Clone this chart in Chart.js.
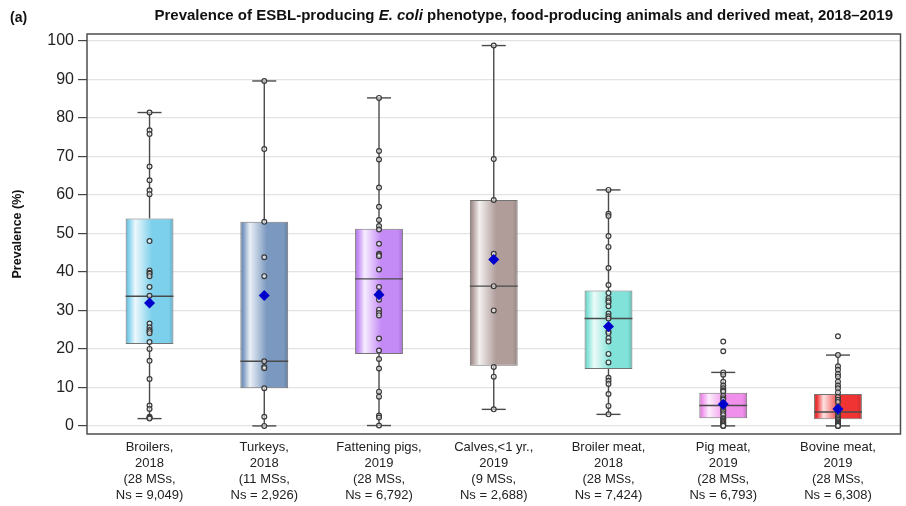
<!DOCTYPE html>
<html>
<head>
<meta charset="utf-8">
<script src="https://cdn.jsdelivr.net/npm/chart.js@4.4.1/dist/chart.umd.min.js"></script>
<style>
    body { margin: 0; background: #fff; }
    #wrap { position: relative; width: 906px; height: 506px; font-family: "Liberation Sans", Arial, sans-serif; }
    #panel { position: absolute; left: 10px; top: 8px; font-weight: bold; font-size: 14px; line-height: 18px; color: #111; }
    #title { position: absolute; right: 13px; top: 6px; font-weight: bold; font-size: 15px; line-height: 18px; color: #111; white-space: nowrap; }
</style>
</head>
<body>
<div id="wrap">
    <div id="panel">(a)</div>
    <div id="title">Prevalence of ESBL-producing <i>E. coli</i> phenotype, food-producing animals and derived meat, 2018–2019</div>
    <canvas id="myChart"></canvas>
</div>
<script>
const categories = [
    ["Broilers,", "2018", "(28 MSs,", "Ns = 9,049)"],
    ["Turkeys,", "2018", "(11 MSs,", "Ns = 2,926)"],
    ["Fattening pigs,", "2019", "(28 MSs,", "Ns = 6,792)"],
    ["Calves,<1 yr.,", "2019", "(9 MSs,", "Ns = 2,688)"],
    ["Broiler meat,", "2018", "(28 MSs,", "Ns = 7,424)"],
    ["Pig meat,", "2019", "(28 MSs,", "Ns = 6,793)"],
    ["Bovine meat,", "2019", "(28 MSs,", "Ns = 6,308)"],
];

const yTicks = [0, 10, 20, 30, 40, 50, 60, 70, 80, 90, 100];

const whiskerLow = [1.9, 0.0, 0.1, 4.3, 3.0, 0.0, 0.0];
const q1 = [21.3, 9.8, 18.7, 15.6, 14.8, 2.0, 1.7];
const median = [33.7, 16.8, 38.2, 36.3, 27.9, 5.3, 3.6];
const q3 = [53.9, 53.0, 51.2, 58.7, 35.2, 8.6, 8.3];
const whiskerHigh = [81.4, 89.6, 85.2, 98.8, 61.3, 13.9, 18.4];
const means = [31.9, 33.9, 34.1, 43.2, 25.8, 5.6, 4.4];

const countryValues = [
    [81.4, 76.8, 75.8, 67.4, 63.8, 61.2, 60.2, 48.0, 40.4, 39.8, 39.5, 38.9, 36.1, 33.8,
     26.6, 25.6, 24.9, 24.6, 24.1, 21.8, 20.0, 16.9, 12.2, 5.3, 4.4, 2.4, 2.1, 1.9],
    [89.6, 71.9, 53.0, 43.8, 38.9, 16.8, 15.3, 15.0, 9.8, 2.4, 0.0],
    [85.2, 71.4, 69.2, 61.9, 56.9, 53.5, 51.9, 51.0, 47.3, 44.7, 44.4, 44.1, 40.6, 36.1,
     34.5, 32.8, 30.2, 29.3, 28.7, 22.7, 19.6, 17.4, 14.9, 8.9, 7.6, 2.7, 2.2, 0.1],
    [98.8, 69.3, 58.7, 44.7, 36.3, 30.0, 15.3, 12.8, 4.3],
    [61.3, 55.1, 54.5, 49.3, 46.5, 41.0, 36.6, 34.5, 33.2, 32.6, 32.1, 31.1, 29.2, 28.5,
     27.9, 25.9, 24.5, 24.1, 22.8, 21.9, 18.7, 16.5, 12.5, 11.7, 10.9, 8.3, 5.2, 3.0],
    [21.9, 19.4, 13.9, 13.3, 11.5, 10.5, 9.8, 9.2, 8.9, 7.8, 7.2, 6.8, 6.0, 5.3,
     4.8, 4.2, 3.8, 3.3, 2.8, 2.0, 1.8, 1.4, 1.0, 0.7, 0.4, 0.2, 0.0, 0.0],
    [23.3, 18.4, 15.5, 14.6, 13.5, 12.8, 11.5, 10.5, 9.8, 8.7, 7.5, 6.8, 6.2, 5.0,
     4.4, 3.6, 3.3, 2.9, 2.4, 2.0, 1.6, 1.2, 0.9, 0.6, 0.3, 0.1, 0.0, 0.0],
];

const boxColors = ["#7dd0ec", "#7b99c0", "#c48af6", "#b09d9a", "#80e2d8", "#f090ec", "#f03434"];

const BOX_FRACTION = 0.417;
const FONT = '"Liberation Sans", Arial, sans-serif';

// blend a hex colour towards another one
const mix = (hex, target, t) => {
    const a = parseInt(hex.slice(1), 16);
    const b = parseInt(target.slice(1), 16);
    const ch = (v, s) => (v >> s) & 255;
    const c = [16, 8, 0].map((s) => Math.round(ch(a, s) + (ch(b, s) - ch(a, s)) * t));
    return `rgb(${c[0]},${c[1]},${c[2]})`;
};

const boxGradient = (context) => {
    const base = boxColors[context.dataIndex] || "#cccccc";
    const chart = context.chart;
    const xs = chart.scales && chart.scales.x;
    if (!xs || context.type !== "data") return base;
    const cx = xs.getPixelForValue(context.dataIndex);
    const w = (xs.getPixelForValue(1) - xs.getPixelForValue(0)) * BOX_FRACTION;
    if (!isFinite(cx) || !isFinite(w)) return base;
    const g = chart.ctx.createLinearGradient(cx - w / 2, 0, cx + w / 2, 0);
    g.addColorStop(0, mix(base, "#000000", 0.18));
    g.addColorStop(0.06, base);
    g.addColorStop(0.2, mix(base, "#ffffff", 0.85));
    g.addColorStop(0.55, base);
    g.addColorStop(0.9, base);
    g.addColorStop(1, mix(base, "#000000", 0.18));
    return g;
};

// whiskers, caps and median lines, drawn right after the boxes
const boxExtras = {
    id: "boxExtras",
    afterDatasetDraw(chart, args) {
        if (args.index !== 0) return;
        const { ctx, scales: { x, y } } = chart;
        ctx.save();
        ctx.strokeStyle = "#4a4a4a";
        ctx.lineWidth = 1.4;
        categories.forEach((_, i) => {
            const cx = x.getPixelForValue(i);
            const half = (x.getPixelForValue(1) - x.getPixelForValue(0)) * BOX_FRACTION / 2;
            const seg = (x1, y1, x2, y2) => {
                ctx.beginPath();
                ctx.moveTo(x1, y1);
                ctx.lineTo(x2, y2);
                ctx.stroke();
            };
            seg(cx, y.getPixelForValue(whiskerHigh[i]), cx, y.getPixelForValue(q3[i]));
            seg(cx, y.getPixelForValue(q1[i]), cx, y.getPixelForValue(whiskerLow[i]));
            seg(cx - 12, y.getPixelForValue(whiskerHigh[i]), cx + 12, y.getPixelForValue(whiskerHigh[i]));
            seg(cx - 12, y.getPixelForValue(whiskerLow[i]), cx + 12, y.getPixelForValue(whiskerLow[i]));
            seg(cx - half, y.getPixelForValue(median[i]), cx + half, y.getPixelForValue(median[i]));
        });
        ctx.restore();
    },
    beforeDatasetsDraw(chart) {
        const { ctx, chartArea: a } = chart;
        ctx.save();
        ctx.strokeStyle = "#4d4d4d";
        ctx.lineWidth = 1.5;
        ctx.strokeRect(a.left, a.top, a.right - a.left, a.bottom - a.top);
        ctx.restore();
    },
};

const pointData = [];
countryValues.forEach((vals, i) => vals.forEach((v) => pointData.push({ x: i, y: v })));

const ctx = document.getElementById("myChart").getContext("2d");
new Chart(ctx, {
    type: "bar",
    data: {
        datasets: [
            {
                label: "IQR",
                data: categories.map((_, i) => ({ x: i, y: [q1[i], q3[i]] })),
                backgroundColor: boxGradient,
                borderColor: "rgba(70,70,70,0.75)",
                borderWidth: 1,
                borderSkipped: false,
                categoryPercentage: 1,
                barPercentage: BOX_FRACTION,
                order: 3,
            },
            {
                type: "line",
                label: "Countries",
                data: pointData,
                showLine: false,
                pointRadius: 2.4,
                pointBorderWidth: 1.2,
                pointBorderColor: "#3a3a3a",
                pointBackgroundColor: "rgba(255,255,255,0.55)",
                order: 2,
            },
            {
                type: "line",
                label: "Mean",
                data: means.map((m, i) => ({ x: i, y: m })),
                showLine: false,
                pointStyle: "rectRot",
                pointRadius: 5.5,
                pointBorderWidth: 0,
                pointBackgroundColor: "#0000cc",
                order: 1,
            },
        ],
    },
    options: {
        responsive: true,
        maintainAspectRatio: false,
        animation: false,
        layout: { padding: { top: 34, right: 0, left: 0, bottom: 0 } },
        plugins: {
            legend: { display: false },
            tooltip: { enabled: false },
        },
        scales: {
            x: {
                type: "linear",
                offset: false,
                min: -0.545,
                max: 6.545,
                afterBuildTicks: (axis) => {
                    axis.ticks = categories.map((_, i) => ({ value: i }));
                },
                afterFit: (axis) => {
                    axis.height = 72;
                },
                grid: { display: false, drawTicks: false, offset: false },
                border: { display: false },
                ticks: {
                    autoSkip: false,
                    maxRotation: 0,
                    padding: 5,
                    color: "#222",
                    font: { family: FONT, size: 13, lineHeight: 1.23 },
                    callback: (v) => categories[v],
                },
            },
            y: {
                min: -2.1,
                max: 101.8,
                afterBuildTicks: (axis) => {
                    axis.ticks = yTicks.map((v) => ({ value: v }));
                },
                afterFit: (axis) => {
                    axis.width = 87;
                },
                ticks: {
                    padding: 4,
                    color: "#222",
                    font: { family: FONT, size: 16 },
                },
                grid: {
                    color: "#e3e3e3",
                    lineWidth: 1.2,
                    tickLength: 9,
                    tickColor: "#444",
                },
                border: { display: false },
                title: {
                    display: true,
                    text: "Prevalence (%)",
                    color: "#111",
                    font: { family: FONT, size: 12.5, weight: "bold" },
                    padding: { top: 10, bottom: 0 },
                },
            },
        },
    },
    plugins: [boxExtras],
});
</script>
</body>
</html>
